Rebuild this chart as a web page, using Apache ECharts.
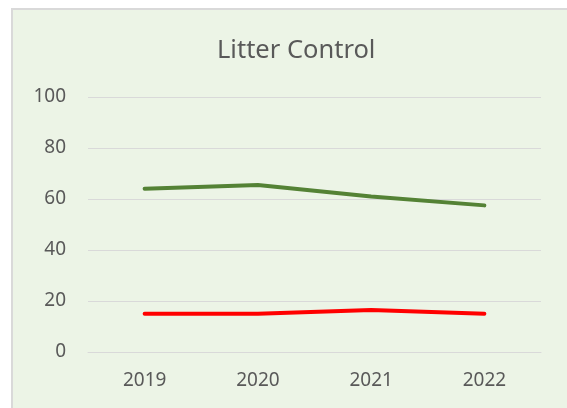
<!DOCTYPE html>
<html>
<head>
<meta charset="utf-8">
<script src="https://cdn.jsdelivr.net/npm/echarts@6/dist/echarts.min.js"></script>
<style>
  html, body { margin: 0; padding: 0; background: #ffffff; width: 567px; height: 408px; overflow: hidden; }
  #bg { position: absolute; left: 11px; top: 8px; width: 560px; height: 404px; background: #ECF4E6; border-left: 2px solid #D9D9D9; border-top: 2px solid #D9D9D9; box-sizing: border-box; }
  #chart { position: absolute; left: 0; top: 0; width: 567px; height: 408px; }
</style>
</head>
<body>
<div id="bg"></div>
<div id="chart"></div>
<script>
const titleText = "Litter Control";
const categories = ["2019", "2020", "2021", "2022"];
const greenValues = [64, 65.5, 61, 57.5];
const redValues = [15, 15, 16.5, 15];
const yMin = 0, yMax = 100, yInterval = 20;

const chart = echarts.init(document.getElementById('chart'), null, { renderer: 'canvas' });
const font = '"Noto Sans", "Open Sans", sans-serif';
chart.setOption({
  backgroundColor: 'transparent',
  animation: false,
  title: {
    text: titleText,
    left: 212,
    top: 33,
    textStyle: { fontFamily: font, fontSize: 25.5, fontWeight: 'normal', color: '#595959' }
  },
  grid: { left: 88, right: 26, top: 97, bottom: 56 },
  xAxis: {
    type: 'category',
    data: categories,
    boundaryGap: true,
    axisLine: { show: true, lineStyle: { color: '#D9D9D9', width: 1 } },
    axisTick: { show: false },
    axisLabel: { fontFamily: font, fontSize: 19, color: '#595959', margin: 19 }
  },
  yAxis: {
    type: 'value',
    min: yMin, max: yMax, interval: yInterval,
    axisLine: { show: false },
    axisTick: { show: false },
    splitLine: { lineStyle: { color: '#D9D9D9', width: 1 } },
    axisLabel: { fontFamily: font, fontSize: 19, color: '#595959', margin: 22 }
  },
  series: [
    {
      name: 'Series 1', type: 'line', data: greenValues, symbol: 'none',
      lineStyle: { color: '#548235', width: 4, cap: 'round', join: 'round' }
    },
    {
      name: 'Series 2', type: 'line', data: redValues, symbol: 'none',
      lineStyle: { color: '#FF0000', width: 4, cap: 'round', join: 'round' }
    }
  ]
});
</script>
</body>
</html>
